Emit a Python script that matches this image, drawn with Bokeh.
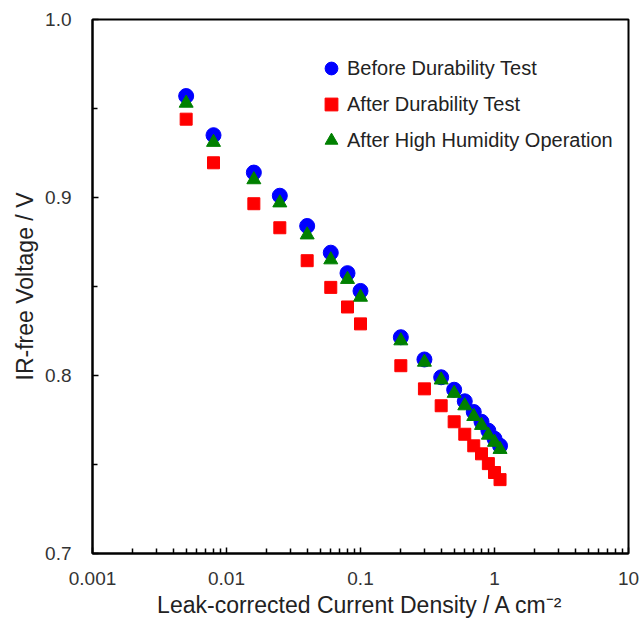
from bokeh.plotting import figure
from bokeh.models import (Range1d, FixedTicker, NumeralTickFormatter, Legend, LegendItem,
                          ColumnDataSource, PrintfTickFormatter)
from bokeh.embed import file_html
from bokeh.resources import INLINE

# ---- data ----
current = [0.005, 0.008, 0.016, 0.025, 0.04, 0.06, 0.08, 0.1, 0.2, 0.3,
           0.4, 0.5, 0.6, 0.7, 0.8, 0.9, 1.0, 1.1]
before_test = [0.957, 0.935, 0.914, 0.901, 0.884, 0.869, 0.8575, 0.8475, 0.8215, 0.809,
               0.799, 0.792, 0.7855, 0.7795, 0.774, 0.769, 0.7645, 0.7605]
after_test = [0.944, 0.9195, 0.8965, 0.883, 0.8645, 0.8495, 0.8385, 0.829, 0.8055, 0.7925,
              0.783, 0.774, 0.767, 0.7605, 0.756, 0.7505, 0.7455, 0.7415]
after_humidity = [0.953, 0.931, 0.910, 0.897, 0.879, 0.865, 0.854, 0.844, 0.8195, 0.8075,
                  0.7975, 0.790, 0.783, 0.777, 0.772, 0.7665, 0.7625, 0.7585]

series_labels = ["Before Durability Test", "After Durability Test",
                 "After High Humidity Operation"]
x_major_ticks = [0.001, 0.01, 0.1, 1, 10]
x_minor_ticks = [m * d for d in [0.001, 0.01, 0.1, 1] for m in range(2, 10)]
y_major_ticks = [0.7, 0.8, 0.9, 1.0]
y_minor_ticks = [0.75, 0.85, 0.95]

FONT = "Liberation Sans"

p = figure(width=640, height=624, x_axis_type="log",
           x_range=Range1d(0.001, 10), y_range=Range1d(0.7, 1.0),
           output_backend="svg", toolbar_location=None,
           min_border_left=92, min_border_right=12, min_border_top=19,
           min_border_bottom=71)
p.xgrid.visible = False
p.ygrid.visible = False
p.outline_line_color = "black"
p.outline_line_width = 2
p.background_fill_color = "white"
p.border_fill_color = "white"

src = ColumnDataSource(dict(x=current, b=before_test, a=after_test, h=after_humidity))

r_a = p.scatter("x", "a", source=src, marker="square", size=12,
                fill_color="#FF0000", line_color="#FF0000")
r_b = p.scatter("x", "b", source=src, marker="circle", size=15,
                fill_color="#0000FF", line_color="#0000FF")
r_h = p.scatter("x", "h", source=src, marker="triangle", size=14,
                fill_color="#008000", line_color="#008000")

for ax in (p.xaxis[0], p.yaxis[0]):
    ax.axis_line_color = "black"
    ax.axis_line_width = 2
    ax.major_tick_in = 6
    ax.major_tick_out = 0
    ax.minor_tick_in = 5
    ax.minor_tick_out = 0
    ax.major_tick_line_color = "black"
    ax.minor_tick_line_color = "black"
    ax.major_tick_line_width = 1.5
    ax.minor_tick_line_width = 1.5
    ax.major_label_text_font = FONT
    ax.major_label_text_font_size = "19px"
    ax.major_label_text_color = "#333333"
    ax.axis_label_text_font = FONT
    ax.axis_label_text_font_size = "23px"
    ax.axis_label_text_font_style = "normal"
    ax.axis_label_text_color = "#222222"

p.xaxis[0].ticker = FixedTicker(ticks=x_major_ticks, minor_ticks=x_minor_ticks)
p.xaxis[0].formatter = NumeralTickFormatter(format="0.[000]")
p.xaxis[0].major_label_standoff = 18
p.xaxis[0].axis_label = "Leak-corrected Current Density / A cm\u207b\u00b2"
p.xaxis[0].axis_label_standoff = 4

p.yaxis[0].ticker = FixedTicker(ticks=y_major_ticks, minor_ticks=y_minor_ticks)
p.yaxis[0].formatter = PrintfTickFormatter(format="%.1f")
p.yaxis[0].major_label_standoff = 21
p.yaxis[0].axis_label = "IR-free Voltage / V"
p.yaxis[0].axis_label_standoff = 4

legend = Legend(items=[LegendItem(label=series_labels[0], renderers=[r_b]),
                       LegendItem(label=series_labels[1], renderers=[r_a]),
                       LegendItem(label=series_labels[2], renderers=[r_h])],
                location=(223, 397))
legend.glyph_width = 32
legend.glyph_height = 32
legend.label_standoff = 0
legend.spacing = 4
legend.padding = 10
legend.margin = 0
legend.border_line_color = None
legend.background_fill_alpha = 0
legend.label_text_font = FONT
legend.label_text_font_size = "20px"
legend.label_text_color = "#222222"
p.add_layout(legend)

open("out.html", "w").write(file_html(p, INLINE))
